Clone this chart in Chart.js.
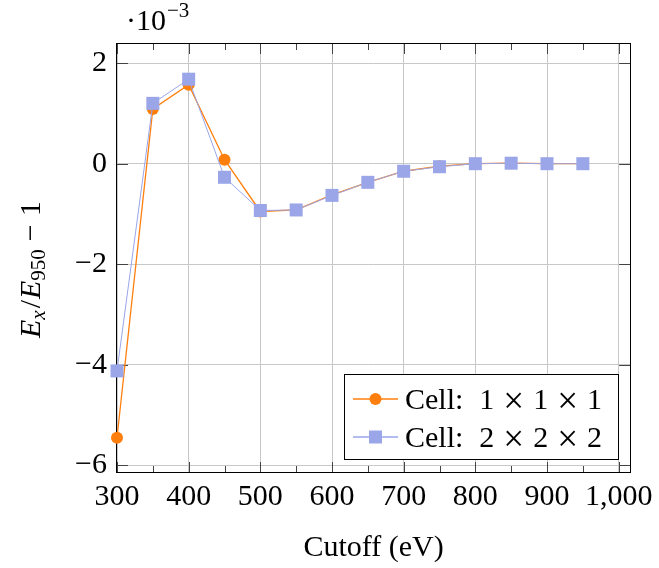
<!DOCTYPE html>
<html>
<head>
<meta charset="utf-8">
<script src="https://cdn.jsdelivr.net/npm/chart.js@4.4.1/dist/chart.umd.min.js"></script>
<style>
  html, body { margin: 0; background: #fff; }
</style>
</head>
<body>
<canvas id="chart" width="659" height="568"></canvas>
<script>
// cutoff energies (eV) and relative energy deviation, in units of 10^-3
const cutoffs = [300, 350, 400, 450, 500, 550, 600, 650, 700, 750, 800, 850, 900, 950]
const cell111 = [-5.45, 1.09, 1.57, 0.08, -0.95, -0.92, -0.62, -0.37, -0.15, -0.05, 0.0, 0.01, 0.0, 0.0]
const cell222 = [-4.12, 1.20, 1.68, -0.27, -0.93, -0.92, -0.63, -0.37, -0.15, -0.06, 0.0, 0.01, 0.0, 0.0]

const xTicks = [300, 400, 500, 600, 700, 800, 900, 1000]
const xMinorTicks = [350, 450, 550, 650, 750, 850, 950]
const yTicks = [-6, -4, -2, 0, 2]

const FONT = '"Liberation Serif", "DejaVu Serif", serif'
const ORANGE = '#ff7f0e'
const BLUE = '#9aa6e8'

const toPoints = (xs, ys) => xs.map((x, i) => ({ x: x, y: ys[i] }))

// draws runs of text with different styles, left to right from (x, y)
function drawRuns(ctx, x, y, runs) {
  runs.forEach(r => {
    ctx.font = (r.italic ? 'italic ' : '') + (r.size || 30) + 'px ' + FONT
    x += r.gap || 0
    ctx.fillText(r.text, x, y + (r.dy || 0))
    x += ctx.measureText(r.text).width
  })
  return x
}

const decorations = {
  id: 'decorations',
  beforeDatasetsDraw(chart) {
    const { ctx, chartArea: a, scales: { x, y } } = chart
    ctx.save()
    ctx.strokeStyle = '#444'
    ctx.lineWidth = 1
    ctx.beginPath()
    xTicks.forEach(v => {
      const px = Math.round(x.getPixelForValue(v)) + 0.5
      ctx.moveTo(px, a.bottom); ctx.lineTo(px, a.bottom - 11)
      ctx.moveTo(px, a.top); ctx.lineTo(px, a.top + 11)
    })
    xMinorTicks.forEach(v => {
      const px = Math.round(x.getPixelForValue(v)) + 0.5
      ctx.moveTo(px, a.bottom); ctx.lineTo(px, a.bottom - 7)
      ctx.moveTo(px, a.top); ctx.lineTo(px, a.top + 7)
    })
    yTicks.forEach(v => {
      const py = Math.round(y.getPixelForValue(v)) + 0.5
      ctx.moveTo(a.left, py); ctx.lineTo(a.left + 11, py)
      ctx.moveTo(a.right, py); ctx.lineTo(a.right - 11, py)
    })
    ctx.stroke()
    ctx.strokeStyle = '#000'
    ctx.strokeRect(Math.round(a.left) - 0.5, Math.round(a.top) + 0.5, Math.round(a.width) + 1, Math.round(a.height) - 1)
    ctx.restore()
  },
  afterDraw(chart) {
    const { ctx, chartArea: a } = chart
    ctx.save()
    ctx.fillStyle = '#000'
    ctx.textBaseline = 'alphabetic'
    ctx.textAlign = 'left'

    // scale factor above the y axis
    drawRuns(ctx, 126, 30, [
      { text: '\u00b710' },
      { text: '\u22123', size: 21, dy: -13, gap: 1 }
    ])

    // x axis title
    ctx.font = '30px ' + FONT
    ctx.textAlign = 'center'
    ctx.fillText('Cutoff (eV)', (a.left + a.right) / 2, 556)
    ctx.textAlign = 'left'

    // y axis title, rotated
    ctx.save()
    ctx.translate(40, 338)
    ctx.rotate(-Math.PI / 2)
    drawRuns(ctx, 0, 0, [
      { text: 'E', italic: true },
      { text: 'x', italic: true, size: 21, dy: 5 },
      { text: '/', gap: 2 },
      { text: 'E', italic: true, gap: 1 },
      { text: '950', size: 21, dy: 5 },
      { text: '\u2212', gap: 8 },
      { text: '1', gap: 8 }
    ])
    ctx.restore()

    // legend
    const bx = 344, by = 374, bw = 274, bh = 85
    ctx.fillStyle = '#fff'
    ctx.fillRect(bx, by, bw, bh)
    ctx.strokeStyle = '#000'
    ctx.lineWidth = 1
    ctx.strokeRect(bx + 0.5, by + 0.5, bw, bh)
    const rows = [
      { color: ORANGE, style: 'circle', n: '1', yc: 399 },
      { color: BLUE, style: 'rect', n: '2', yc: 437 }
    ]
    rows.forEach(r => {
      ctx.strokeStyle = r.color
      ctx.lineWidth = 1.3
      ctx.beginPath(); ctx.moveTo(353, r.yc); ctx.lineTo(398, r.yc); ctx.stroke()
      ctx.fillStyle = r.color
      ctx.beginPath()
      if (r.style === 'circle') ctx.arc(375.5, r.yc, 6, 0, Math.PI * 2)
      else ctx.rect(369, r.yc - 6.5, 13, 13)
      ctx.fill()
      ctx.fillStyle = '#000'
      drawRuns(ctx, 405, r.yc + 10, [
        { text: 'Cell:' },
        { text: r.n, gap: 16 },
        { text: '\u00d7', size: 37, gap: 9, dy: 4 },
        { text: r.n, gap: 9 },
        { text: '\u00d7', size: 37, gap: 9, dy: 4 },
        { text: r.n, gap: 9 }
      ])
    })
    ctx.restore()
  }
}

new Chart(document.getElementById('chart'), {
  type: 'scatter',
  data: {
    datasets: [
      {
        label: 'Cell: 1 \u00d7 1 \u00d7 1',
        data: toPoints(cutoffs, cell111),
        showLine: true,
        borderColor: ORANGE,
        backgroundColor: ORANGE,
        borderWidth: 1.3,
        pointStyle: 'circle',
        pointRadius: 6,
        pointBorderWidth: 0,
        pointHoverRadius: 6,
        clip: false,
        order: 1
      },
      {
        label: 'Cell: 2 \u00d7 2 \u00d7 2',
        data: toPoints(cutoffs, cell222),
        showLine: true,
        borderColor: BLUE,
        backgroundColor: BLUE,
        borderWidth: 1,
        pointStyle: 'rect',
        pointRadius: 9.2,
        pointBorderWidth: 0,
        pointHoverRadius: 9.2,
        clip: false,
        order: 0
      }
    ]
  },
  options: {
    responsive: false,
    animation: false,
    devicePixelRatio: 1,
    layout: { padding: { top: 43, right: 26, left: 0, bottom: 0 } },
    plugins: {
      legend: { display: false },
      tooltip: { enabled: false }
    },
    scales: {
      x: {
        type: 'linear',
        min: 300,
        max: 1016,
        afterFit: s => { s.height = 95 },
        afterBuildTicks: s => { s.ticks = xTicks.map(v => ({ value: v })) },
        border: { display: false },
        grid: { color: '#c8c8c8', lineWidth: 1, drawTicks: false },
        ticks: {
          padding: 6,
          color: '#000',
          maxRotation: 0,
          autoSkip: false,
          font: { family: FONT, size: 30 },
          callback: v => v.toLocaleString('en-US')
        }
      },
      y: {
        min: -6.15,
        max: 2.4,
        afterFit: s => { s.width = 117 },
        afterBuildTicks: s => { s.ticks = yTicks.map(v => ({ value: v })) },
        border: { display: false },
        grid: { color: '#c8c8c8', lineWidth: 1, drawTicks: false },
        ticks: {
          padding: 10,
          color: '#000',
          font: { family: FONT, size: 30 },
          callback: v => (v < 0 ? '\u2212' + Math.abs(v) : String(v))
        }
      }
    }
  },
  plugins: [decorations]
})
</script>
</body>
</html>
